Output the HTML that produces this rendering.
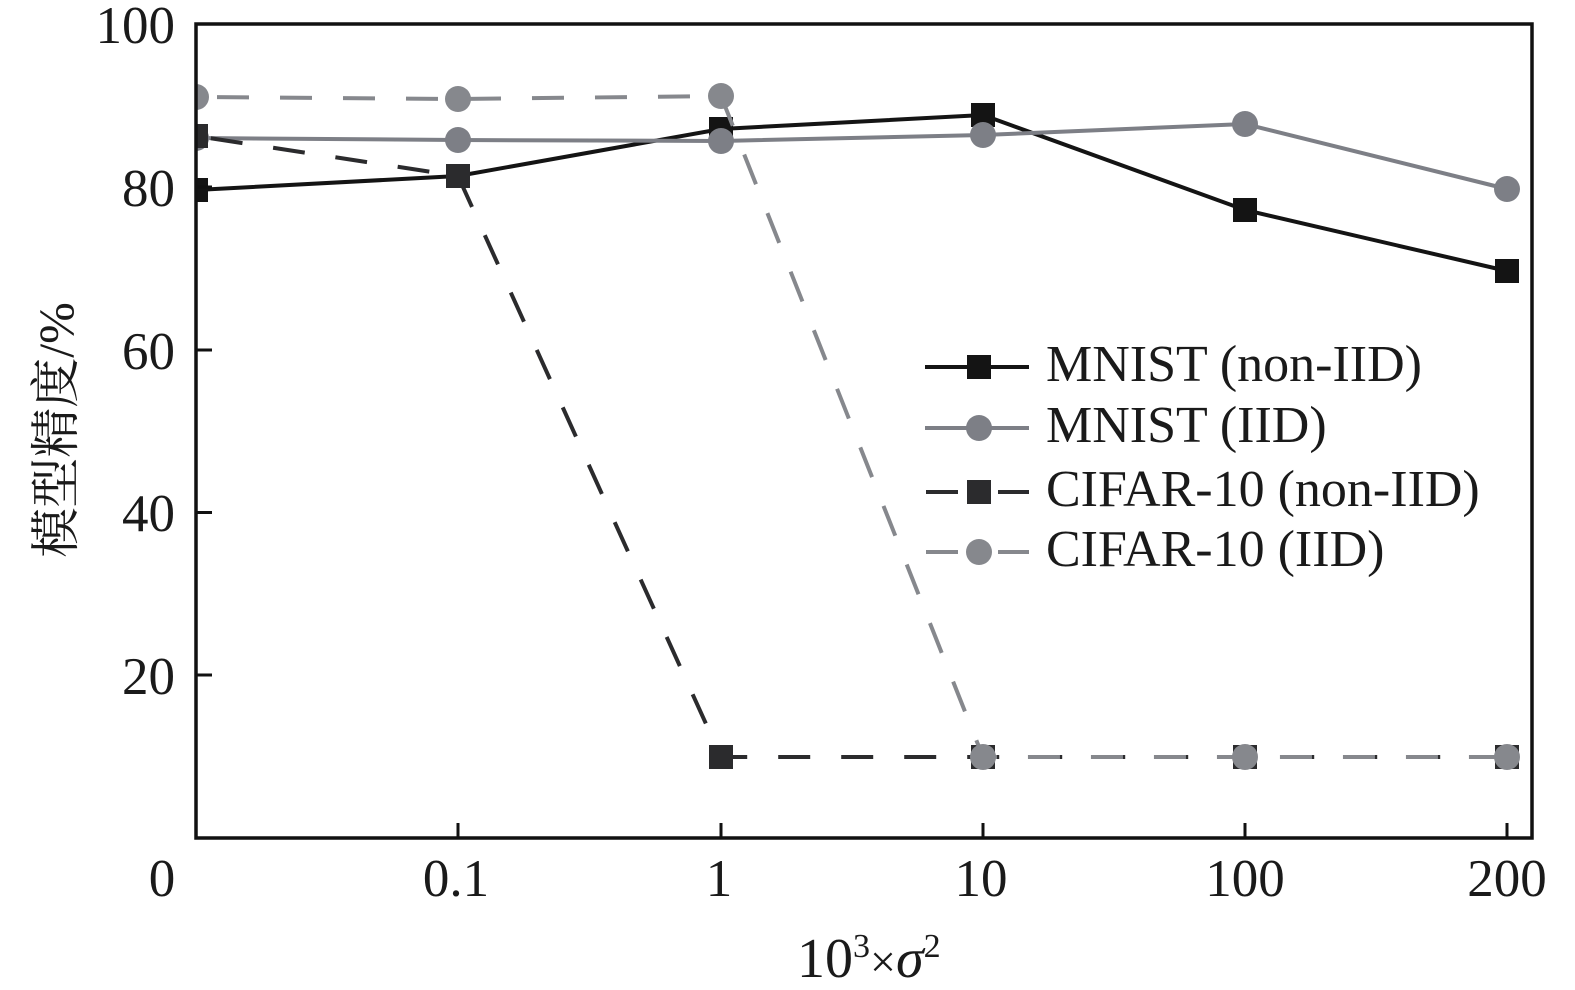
<!DOCTYPE html>
<html>
<head>
<meta charset="utf-8">
<style>
  html,body{margin:0;padding:0;background:#fff;}
  svg{display:block;}
  .t{font-family:"Liberation Serif","Noto Serif CJK SC",serif;fill:#1a1a1a;}
</style>
</head>
<body>
<svg width="1575" height="990" viewBox="0 0 1575 990" xmlns="http://www.w3.org/2000/svg">
  <defs>
    <clipPath id="plot">
      <rect x="196" y="24" width="1336" height="814"/>
    </clipPath>
  </defs>

  <g clip-path="url(#plot)">
    <!-- MNIST (non-IID) -->
    <polyline points="196,190 458,176 721,129 983,115 1245,210 1507,271" fill="none" stroke="#141414" stroke-width="4"/>
    <g fill="#141414">
      <rect x="184" y="178" width="24" height="24"/>
      <rect x="446" y="164" width="24" height="24"/>
      <rect x="709" y="117" width="24" height="24"/>
      <rect x="971" y="103" width="24" height="24"/>
      <rect x="1233" y="198" width="24" height="24"/>
      <rect x="1495" y="259" width="24" height="24"/>
    </g>

    <!-- MNIST (IID) -->
    <polyline points="196,138 458,140 721,141 983,135 1245,124 1507,189" fill="none" stroke="#7d7f86" stroke-width="4"/>
    <g fill="#7d7f86">
      <circle cx="196" cy="138" r="13"/>
      <circle cx="458" cy="140" r="13"/>
      <circle cx="721" cy="141" r="13"/>
      <circle cx="983" cy="135" r="13"/>
      <circle cx="1245" cy="124" r="13"/>
      <circle cx="1507" cy="189" r="13"/>
    </g>

    <!-- CIFAR-10 (non-IID) -->
    <polyline points="196,136 458,176 721,757 983,757 1245,757 1507,757" fill="none" stroke="#2b2b2d" stroke-width="4" stroke-dasharray="32 31" stroke-dashoffset="48"/>
    <g fill="#2b2b2d">
      <rect x="184" y="124" width="24" height="24"/>
      <rect x="446" y="164" width="24" height="24"/>
      <rect x="709" y="745" width="24" height="24"/>
      <rect x="971" y="745" width="24" height="24"/>
      <rect x="1233" y="745" width="24" height="24"/>
      <rect x="1495" y="745" width="24" height="24"/>
    </g>

    <!-- CIFAR-10 (IID) -->
    <polyline points="196,97 458,99 721,96 983,757 1245,757 1507,757" fill="none" stroke="#86888d" stroke-width="4" stroke-dasharray="32 31" stroke-dashoffset="42"/>
    <g fill="#86888d">
      <circle cx="196" cy="97" r="13"/>
      <circle cx="458" cy="99" r="13"/>
      <circle cx="721" cy="96" r="13"/>
      <circle cx="983" cy="757" r="13"/>
      <circle cx="1245" cy="757" r="13"/>
      <circle cx="1507" cy="757" r="13"/>
    </g>
  </g>

  <!-- Frame -->
  <rect x="196" y="24" width="1336" height="814" fill="none" stroke="#111" stroke-width="3.5"/>

  <!-- Y ticks -->
  <g stroke="#111" stroke-width="3">
    <line x1="196" y1="675" x2="212" y2="675"/>
    <line x1="196" y1="512.5" x2="212" y2="512.5"/>
    <line x1="196" y1="350" x2="212" y2="350"/>
    <line x1="196" y1="187" x2="212" y2="187"/>
  </g>
  <!-- X ticks -->
  <g stroke="#111" stroke-width="3">
    <line x1="458" y1="838" x2="458" y2="823"/>
    <line x1="721" y1="838" x2="721" y2="823"/>
    <line x1="983" y1="838" x2="983" y2="823"/>
    <line x1="1245" y1="838" x2="1245" y2="823"/>
    <line x1="1507" y1="838" x2="1507" y2="823"/>
  </g>

  <!-- Y tick labels -->
  <g class="t" font-size="53" text-anchor="end">
    <text x="175" y="43">100</text>
    <text x="175" y="206">80</text>
    <text x="175" y="369">60</text>
    <text x="175" y="531">40</text>
    <text x="175" y="694">20</text>
  </g>

  <!-- X tick labels -->
  <g class="t" font-size="53" text-anchor="middle">
    <text x="162" y="896">0</text>
    <text x="456" y="896">0.1</text>
    <text x="719" y="896">1</text>
    <text x="981" y="896">10</text>
    <text x="1245" y="896">100</text>
    <text x="1507" y="896">200</text>
  </g>

  <!-- X axis title -->
  <text class="t" x="797" y="977" font-size="56">10<tspan font-size="34" dy="-20">3</tspan><tspan font-size="46" dy="20">×</tspan><tspan font-style="italic">σ</tspan><tspan font-size="34" dy="-20">2</tspan></text>

  <!-- Y axis title -->
  <text class="t" transform="translate(73,430) rotate(-90)" font-size="50" text-anchor="middle">模型精度/%</text>

  <!-- Legend -->
  <g>
    <line x1="925" y1="367" x2="1029" y2="367" stroke="#141414" stroke-width="4"/>
    <rect x="967" y="355" width="24" height="24" fill="#141414"/>

    <line x1="925" y1="428" x2="1029" y2="428" stroke="#7d7f86" stroke-width="4"/>
    <circle cx="979" cy="428" r="13" fill="#7d7f86"/>

    <line x1="926" y1="492" x2="958" y2="492" stroke="#2b2b2d" stroke-width="4"/>
    <line x1="998" y1="492" x2="1029" y2="492" stroke="#2b2b2d" stroke-width="4"/>
    <rect x="967" y="480" width="24" height="24" fill="#2b2b2d"/>

    <line x1="926" y1="552" x2="958" y2="552" stroke="#86888d" stroke-width="4"/>
    <line x1="998" y1="552" x2="1029" y2="552" stroke="#86888d" stroke-width="4"/>
    <circle cx="979" cy="552" r="13" fill="#86888d"/>
  </g>
  <g class="t" font-size="52">
    <text x="1046" y="381">MNIST (non-IID)</text>
    <text x="1046" y="442">MNIST (IID)</text>
    <text x="1046" y="506">CIFAR-10 (non-IID)</text>
    <text x="1046" y="566">CIFAR-10 (IID)</text>
  </g>
</svg>
</body>
</html>
